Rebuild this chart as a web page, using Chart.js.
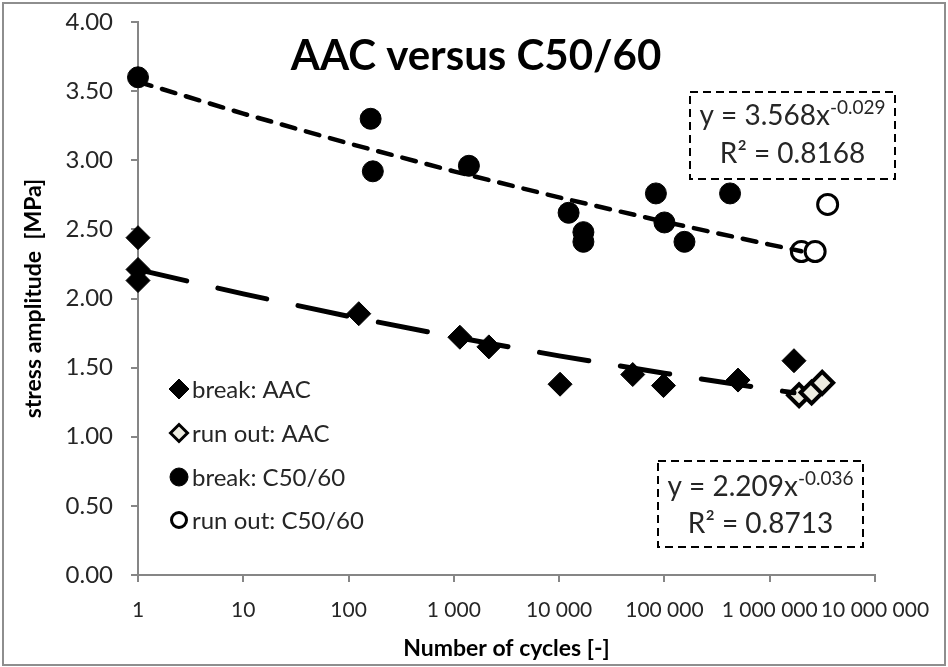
<!DOCTYPE html>
<html>
<head>
<meta charset="utf-8">
<script src="https://cdn.jsdelivr.net/npm/chart.js@4.4.1/dist/chart.umd.min.js"></script>
<style>
    html, body { margin: 0; padding: 0; background: #ffffff; }
    #wrap { position: relative; width: 948px; height: 667px; }
</style>
</head>
<body>
<div id="wrap"><canvas id="myChart" width="948" height="667"></canvas></div>
<script>
// tick values / labels of the log axis
const xTickValues = [1, 10, 100, 1000, 10000, 100000, 1000000, 10000000];
const xTickLabels = ['1', '10', '100', '1 000', '10 000', '100 000', '1 000 000', '10 000 000'];

// measured points (cycles, stress amplitude MPa)
const aacBreakX = [1, 1, 1, 125, 1140, 2150, 10200, 50000, 98000, 500000, 1700000];
const aacBreakY = [2.44, 2.21, 2.13, 1.89, 1.72, 1.65, 1.38, 1.45, 1.37, 1.41, 1.55];
const aacRunOutX = [1900000, 2500000, 3150000];
const aacRunOutY = [1.30, 1.32, 1.39];
const c50BreakX = [1, 162, 170, 1390, 12300, 17000, 17000, 83000, 100000, 155000, 420000];
const c50BreakY = [3.60, 3.30, 2.92, 2.96, 2.62, 2.48, 2.41, 2.76, 2.55, 2.41, 2.76];
const c50RunOutX = [2000000, 2700000, 3550000];
const c50RunOutY = [2.34, 2.34, 2.68];

// power trend lines
const aacTrendX = [1, 10, 100, 1000, 10000, 100000, 1000000, 1700000];
const aacTrendY = [2.209, 2.033, 1.871, 1.722, 1.585, 1.459, 1.343, 1.318];
const c50TrendX = [1, 10, 100, 1000, 10000, 100000, 1000000, 2000000];
const c50TrendY = [3.568, 3.337, 3.122, 2.920, 2.731, 2.555, 2.390, 2.342];

const legendLabels = ['break: AAC', 'run out: AAC', 'break: C50/60', 'run out: C50/60'];
const chartTitle = 'AAC versus C50/60';
const aacEquation = ['y = 2.209x', '-0.036', 'R² = 0.8713'];
const c50Equation = ['y = 3.568x', '-0.029', 'R² = 0.8168'];

const FONT = 'Lato';
const AXIS_GREY = '#868686';
const TEXT = '#262626';

function points(xs, ys) {
    return xs.map((x, i) => ({ x: x, y: ys[i] }));
}

const decor = {
    id: 'decor',
    beforeDraw(chart) {
        const ctx = chart.ctx;
        ctx.save();
        ctx.strokeStyle = '#8e8e8e';
        ctx.lineWidth = 2;
        ctx.strokeRect(3, 3, 942, 662);
        ctx.restore();
    },
    afterDraw(chart) {
        const ctx = chart.ctx;
        ctx.save();

        // title
        ctx.fillStyle = '#000000';
        ctx.font = 'bold 42px ' + FONT;
        ctx.textAlign = 'center';
        ctx.textBaseline = 'alphabetic';
        ctx.fillText(chartTitle, 476, 70);

        // legend
        const styles = [
            { pointStyle: 'rectRot', radius: 10, borderWidth: 1, fill: '#000000' },
            { pointStyle: 'rectRot', radius: 8.5, borderWidth: 3, fill: '#ecebe0' },
            { pointStyle: 'circle', radius: 9, borderWidth: 1, fill: '#000000' },
            { pointStyle: 'circle', radius: 7.5, borderWidth: 3, fill: '#ffffff' }
        ];
        const rowY = [389, 433, 477, 520];
        ctx.font = '24px ' + FONT;
        ctx.textAlign = 'left';
        ctx.textBaseline = 'middle';
        legendLabels.forEach((label, i) => {
            ctx.fillStyle = styles[i].fill;
            ctx.strokeStyle = '#000000';
            ctx.lineWidth = styles[i].borderWidth;
            Chart.helpers.drawPoint(ctx, styles[i], 179, rowY[i]);
            ctx.fillStyle = TEXT;
            ctx.fillText(label, 192, rowY[i] + 1);
        });

        // equation boxes
        drawEquation(ctx, c50Equation, 690, 92, 205, 87, 33, 71);
        drawEquation(ctx, aacEquation, 658, 461, 205, 86, 35, 72);

        ctx.restore();
    }
};

function drawEquation(ctx, eq, x, y, w, h, base1, base2) {
    ctx.save();
    ctx.fillStyle = '#ffffff';
    ctx.fillRect(x, y, w, h);
    ctx.strokeStyle = '#000000';
    ctx.lineWidth = 2;
    ctx.setLineDash([8, 5]);
    ctx.strokeRect(x, y, w, h);
    ctx.setLineDash([]);

    const cx = x + w / 2;
    ctx.fillStyle = TEXT;
    ctx.textBaseline = 'alphabetic';
    ctx.textAlign = 'left';
    ctx.font = '28px ' + FONT;
    const mainW = ctx.measureText(eq[0]).width;
    ctx.font = '19px ' + FONT;
    const supW = ctx.measureText(eq[1]).width;
    const startX = cx - (mainW + supW) / 2;
    ctx.font = '28px ' + FONT;
    ctx.fillText(eq[0], startX, y + base1);
    ctx.font = '19px ' + FONT;
    ctx.fillText(eq[1], startX + mainW, y + base1 - 11);
    ctx.font = '28px ' + FONT;
    ctx.textAlign = 'center';
    ctx.fillText(eq[2], cx, y + base2);
    ctx.restore();
}

const chart = new Chart('myChart', {
    type: 'scatter',
    plugins: [decor],
    data: {
        datasets: [
            {
                label: 'trend AAC',
                data: points(aacTrendX, aacTrendY),
                showLine: true,
                pointRadius: 0,
                borderColor: '#000000',
                borderWidth: 5,
                borderDash: [50, 32],
                borderCapStyle: 'round',
                tension: 0,
                clip: false,
                order: 0
            },
            {
                label: 'trend C50/60',
                data: points(c50TrendX, c50TrendY),
                showLine: true,
                pointRadius: 0,
                borderColor: '#000000',
                borderWidth: 4.5,
                borderDash: [14, 11],
                borderCapStyle: 'round',
                tension: 0,
                clip: false,
                order: 0
            },
            {
                label: legendLabels[0],
                data: points(aacBreakX, aacBreakY),
                pointStyle: 'rectRot',
                pointRadius: 12,
                backgroundColor: '#000000',
                borderColor: '#000000',
                borderWidth: 1,
                clip: false,
                order: 1
            },
            {
                label: legendLabels[1],
                data: points(aacRunOutX, aacRunOutY),
                pointStyle: 'rectRot',
                pointRadius: 11,
                backgroundColor: '#ecebe0',
                borderColor: '#000000',
                borderWidth: 4,
                clip: false,
                order: 1
            },
            {
                label: legendLabels[2],
                data: points(c50BreakX, c50BreakY),
                pointStyle: 'circle',
                pointRadius: 10.5,
                backgroundColor: '#000000',
                borderColor: '#000000',
                borderWidth: 1,
                clip: false,
                order: 1
            },
            {
                label: legendLabels[3],
                data: points(c50RunOutX, c50RunOutY),
                pointStyle: 'circle',
                pointRadius: 10,
                backgroundColor: '#ffffff',
                borderColor: '#000000',
                borderWidth: 3,
                clip: false,
                order: 1
            }
        ]
    },
    options: {
        responsive: false,
        animation: false,
        layout: {
            autoPadding: false,
            padding: { left: 0, top: 22, right: 73, bottom: 0 }
        },
        plugins: {
            legend: { display: false },
            tooltip: { enabled: false },
            title: { display: false }
        },
        scales: {
            x: {
                type: 'logarithmic',
                min: 1,
                max: 10000000,
                afterBuildTicks: (scale) => {
                    scale.ticks = xTickValues.map(v => ({ value: v }));
                },
                afterFit: (scale) => {
                    scale.height = 92;
                    scale.paddingLeft = 0;
                    scale.paddingRight = 0;
                },
                ticks: {
                    autoSkip: false,
                    maxRotation: 0,
                    minRotation: 0,
                    padding: 16,
                    color: TEXT,
                    font: { family: FONT, size: 21 },
                    callback: (value, index) => xTickLabels[index]
                },
                grid: {
                    drawOnChartArea: false,
                    drawTicks: true,
                    tickLength: 7,
                    color: AXIS_GREY,
                    lineWidth: 2
                },
                border: { color: AXIS_GREY, width: 2 },
                title: {
                    display: true,
                    text: 'Number of cycles [-]',
                    color: '#000000',
                    font: { family: FONT, size: 23, weight: 'bold' },
                    padding: { top: 0, bottom: 5 }
                }
            },
            y: {
                min: 0,
                max: 4,
                afterFit: (scale) => {
                    scale.width = 138;
                    scale.paddingTop = 0;
                    scale.paddingBottom = 0;
                },
                ticks: {
                    stepSize: 0.5,
                    padding: 18,
                    color: TEXT,
                    font: { family: FONT, size: 24 },
                    callback: (value) => value.toFixed(2)
                },
                grid: {
                    drawOnChartArea: false,
                    drawTicks: true,
                    tickLength: 7,
                    color: AXIS_GREY,
                    lineWidth: 2
                },
                border: { color: AXIS_GREY, width: 2 },
                title: {
                    display: true,
                    text: 'stress amplitude  [MPa]',
                    color: '#000000',
                    font: { family: FONT, size: 23, weight: 'bold' },
                    padding: { top: 20, bottom: 0 }
                }
            }
        }
    }
});
</script>
</body>
</html>
